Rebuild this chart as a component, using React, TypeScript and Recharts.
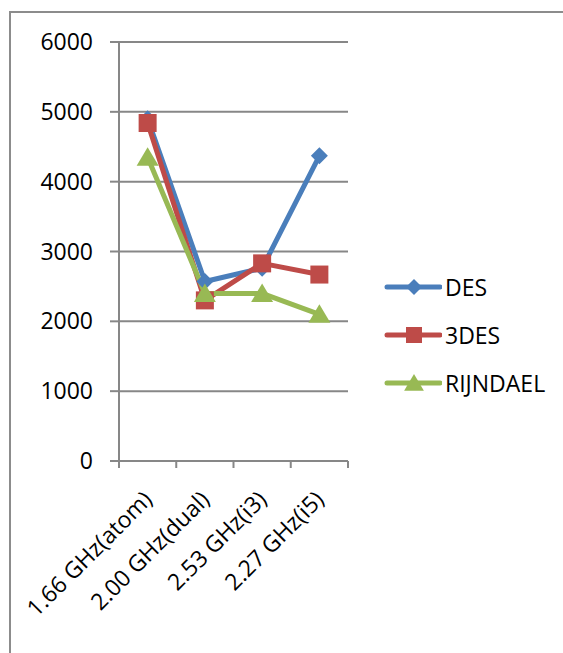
import { LineChart, Line, XAxis, YAxis, CartesianGrid, Legend } from 'recharts';

const categories = ['1.66 GHz(atom)', '2.00 GHz(dual)', '2.53 GHz(i3)', '2.27 GHz(i5)'];
const desValues = [4900, 2570, 2760, 4370];
const tripleDesValues = [4840, 2300, 2830, 2670];
const rijndaelValues = [4350, 2400, 2400, 2100];
const yTicks = [0, 1000, 2000, 3000, 4000, 5000, 6000];

const series = [
  { key: 'des', name: 'DES', color: '#4a7ebb', shape: 'diamond' },
  { key: 'tdes', name: '3DES', color: '#be4b48', shape: 'square' },
  { key: 'rijndael', name: 'RIJNDAEL', color: '#98b954', shape: 'triangle' },
];

// each category sits in the middle of its slot on a 0..n numeric axis
const chartData = categories.map((cpu, i) => ({
  cpu,
  x: i + 0.5,
  des: desValues[i],
  tdes: tripleDesValues[i],
  rijndael: rijndaelValues[i],
}));

// whole numbers get a tick mark, halves get the category label
const xTicks: number[] = [];
for (let i = 0; i <= categories.length * 2; i++) xTicks.push(i / 2);

const FONT = '"Open Sans", sans-serif';
const FONT_SIZE = 23;
const GRID = '#878787';

function Marker({ shape, cx, cy, color, s }: { shape: string; cx: number; cy: number; color: string; s: number }) {
  if (shape === 'diamond') {
    return <polygon points={`${cx},${cy - s} ${cx + s},${cy} ${cx},${cy + s} ${cx - s},${cy}`} fill={color} />;
  }
  if (shape === 'square') {
    return <rect x={cx - s} y={cy - s} width={s * 2} height={s * 2} fill={color} />;
  }
  return <polygon points={`${cx},${cy - s} ${cx + s * 1.1},${cy + s * 0.85} ${cx - s * 1.1},${cy + s * 0.85}`} fill={color} />;
}

function CategoryTick(props: any) {
  const { x, y, payload } = props;
  const v = payload.value as number;
  if (Number.isInteger(v)) {
    return <line x1={x} y1={y} x2={x} y2={y + 7} stroke={GRID} strokeWidth={2} />;
  }
  const ax = x + 6;
  const ay = y + 40;
  return (
    <text
      x={ax}
      y={ay}
      textAnchor="end"
      transform={`rotate(-45, ${ax}, ${ay})`}
      fontFamily={FONT}
      fontSize={FONT_SIZE}
      fill="#000"
    >
      {categories[Math.floor(v)]}
    </text>
  );
}

function LegendBox() {
  return (
    <div style={{ fontFamily: FONT, fontSize: FONT_SIZE, color: '#000' }}>
      {series.map((s) => (
        <div key={s.key} style={{ display: 'flex', alignItems: 'center', height: 48 }}>
          <svg width={58} height={22}>
            <line x1={3} y1={11} x2={56} y2={11} stroke={s.color} strokeWidth={5} strokeLinecap="round" />
            <Marker shape={s.shape} cx={30} cy={11} color={s.color} s={s.shape === 'triangle' ? 9 : 8} />
          </svg>
          <span style={{ marginLeft: 3 }}>{s.name}</span>
        </div>
      ))}
    </div>
  );
}

export default function App() {
  return (
    <div style={{ position: 'fixed', left: 0, top: 0, width: 563, height: 653, overflow: 'hidden', background: '#fff' }}>
      <div style={{ position: 'absolute', left: 9, top: 11, width: 700, height: 800, border: '2px solid #8c8c8c' }} />
      <div style={{ position: 'absolute', left: 0, top: 0 }}>
        <LineChart width={563} height={653} data={chartData} margin={{ top: 42, right: 215, bottom: 42, left: 0 }}>
          <CartesianGrid vertical={false} stroke={GRID} strokeWidth={2} />
          <XAxis
            dataKey="x"
            type="number"
            domain={[0, categories.length]}
            ticks={xTicks}
            interval={0}
            height={150}
            tickSize={0}
            tickMargin={0}
            tickLine={false}
            axisLine={{ stroke: GRID, strokeWidth: 2 }}
            tick={CategoryTick}
          />
          <YAxis
            domain={[0, 6000]}
            ticks={yTicks}
            interval={0}
            width={119}
            tickSize={9}
            tickMargin={17}
            axisLine={{ stroke: GRID, strokeWidth: 2 }}
            tickLine={{ stroke: GRID, strokeWidth: 2 }}
            tick={{ fill: '#000', fontSize: FONT_SIZE, fontFamily: FONT }}
          />
          <Legend
            layout="vertical"
            align="center"
            verticalAlign="middle"
            wrapperStyle={{ left: 384, top: 263, width: 179 }}
            content={<LegendBox />}
          />
          {series.map((s) => (
            <Line
              key={s.key}
              dataKey={s.key}
              name={s.name}
              stroke={s.color}
              strokeWidth={5}
              strokeLinejoin="round"
              isAnimationActive={false}
              dot={(p: any) => (
                <Marker
                  key={`${s.key}-${p.index}`}
                  shape={s.shape}
                  cx={p.cx}
                  cy={p.cy}
                  color={s.color}
                  s={s.shape === 'diamond' ? 8.5 : s.shape === 'square' ? 9 : 10}
                />
              )}
              activeDot={false}
            />
          ))}
        </LineChart>
      </div>
    </div>
  );
}
